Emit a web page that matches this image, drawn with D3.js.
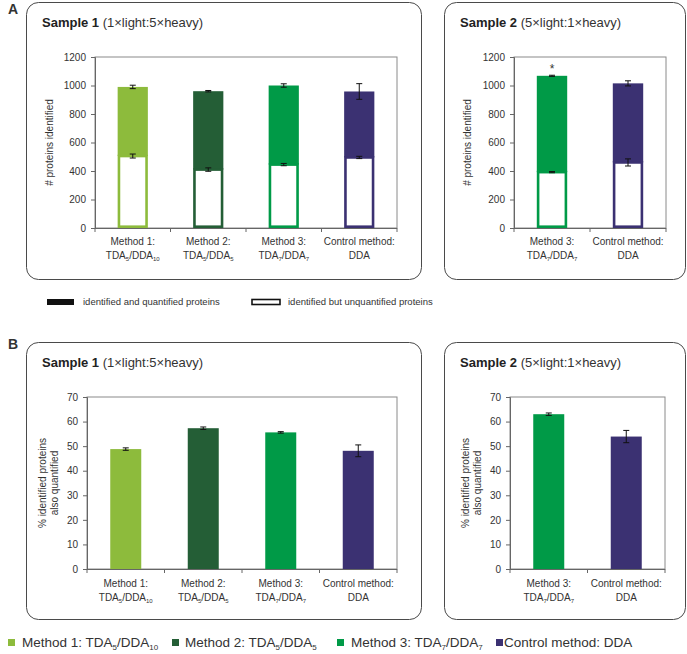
<!DOCTYPE html>
<html><head><meta charset="utf-8">
<script src="https://cdn.jsdelivr.net/npm/d3@7"></script>
<style>
body{margin:0;background:#fff;}
text{font-family:"Liberation Sans",Arial,sans-serif;fill:#333;}
</style></head>
<body><svg id="c" width="687" height="654"></svg>
<script>
// ---------- data ----------
const catLine1 = ["Method 1:", "Method 2:", "Method 3:", "Control method:"];
const catLine2 = ["TDA_5/DDA_10", "TDA_5/DDA_5", "TDA_7/DDA_7", "DDA"];
const colors = ["#8dbb3c", "#245e36", "#009a47", "#3b3172"];
const legendLabels = ["Method 1: TDA_5/DDA_10", "Method 2: TDA_5/DDA_5", "Method 3: TDA_7/DDA_7", "Control method: DDA"];

// Panel A: sample 1 (all four methods)
const s1Total = [990, 960, 1000, 958];
const s1TotalErr = [12, 5, 12, 55];
const s1Unquant = [505, 410, 445, 495];
const s1UnquantErr = [14, 12, 8, 8];
// Panel A: sample 2 (method 3, control)
const s2Idx = [2, 3];
const s2Total = [1068, 1015];
const s2TotalErr = [4, 18];
const s2Unquant = [392, 460];
const s2UnquantErr = [4, 25];
const s2Star = [true, false];
// Panel B: % identified proteins also quantified
const p1Pct = [48.8, 57.3, 55.6, 48.1];
const p1Err = [0.5, 0.5, 0.3, 2.4];
const p2Pct = [63.0, 53.9];
const p2Err = [0.5, 2.5];

const ticksA = [0, 200, 400, 600, 800, 1000, 1200];
const ticksB = [0, 10, 20, 30, 40, 50, 60, 70];

const svg = d3.select("#c");

function richText(sel, str, subSize) {
  // "TDA_5/DDA_10" -> subscripts
  const parts = str.split(/(_\d+)/).filter(s => s.length);
  parts.forEach(p => {
    if (p[0] === "_") {
      sel.append("tspan").attr("font-size", subSize).attr("baseline-shift", -subSize * 0.4).text(p.slice(1));
    } else {
      sel.append("tspan").text(p);
    }
  });
}

function box(x, y, w, h, title, sub) {
  svg.append("rect").attr("x", x + 0.5).attr("y", y + 0.5).attr("width", w).attr("height", h)
    .attr("rx", 12).attr("ry", 12).attr("fill", "none").attr("stroke", "#4a4a4a").attr("stroke-width", 1);
  const t = svg.append("text").attr("x", x + 16).attr("y", y + 25).attr("font-size", 13);
  t.append("tspan").attr("font-weight", "bold").attr("fill", "#222").text(title);
  t.append("tspan").attr("fill", "#333").text(" " + sub);
}

function plot(opts) {
  const {left, right, top, bottom, idx, yMax, ticks, ylabel} = opts;
  const x = d3.scaleBand().domain(idx).range([left, right]).paddingInner(opts.pad).paddingOuter(opts.pad / 2);
  const y = d3.scaleLinear().domain([0, yMax]).range([bottom, top]);
  const g = svg.append("g");
  // frame
  g.append("rect").attr("x", left).attr("y", top).attr("width", right - left).attr("height", bottom - top)
    .attr("fill", "none").attr("stroke", "#8a8a8a").attr("stroke-width", 1);
  // y axis
  const ya = g.append("g").attr("transform", `translate(${left},0)`)
    .call(d3.axisLeft(y).tickValues(ticks).tickFormat(d3.format("d")).tickSize(4).tickPadding(5));
  ya.select(".domain").attr("stroke", "#666");
  ya.selectAll(".tick line").attr("stroke", "#666");
  ya.selectAll(".tick text").attr("font-size", 10).attr("font-family", "Liberation Sans, Arial, sans-serif").attr("fill", "#333");
  // x axis line + ticks at category boundaries
  g.append("line").attr("x1", left).attr("x2", right).attr("y1", bottom + 0.5).attr("y2", bottom + 0.5).attr("stroke", "#666");
  const step = x.step();
  d3.range(idx.length + 1).forEach(i => {
    const xx = left + i * step;
    g.append("line").attr("x1", xx).attr("x2", xx).attr("y1", bottom).attr("y2", bottom + 4).attr("stroke", "#666");
  });
  // category labels
  idx.forEach(ci => {
    const cx = x(ci) + x.bandwidth() / 2;
    g.append("text").attr("x", cx).attr("y", bottom + opts.lab1).attr("text-anchor", "middle").attr("font-size", 10).text(catLine1[ci]);
    const t2 = g.append("text").attr("x", cx).attr("y", bottom + opts.lab1 + 14).attr("text-anchor", "middle").attr("font-size", 10);
    richText(t2, catLine2[ci], 6);
  });
  // y label
  const cy = (top + bottom) / 2;
  ylabel.forEach((line, i) => {
    g.append("text").attr("transform", `translate(${left + opts.ylx + i * 12},${cy}) rotate(-90)`)
      .attr("text-anchor", "middle").attr("font-size", 10).text(line);
  });
  return {x, y, g};
}

function errbar(g, cx, y, v, e) {
  const y1 = y(v + e), y2 = y(v - e);
  g.append("line").attr("x1", cx).attr("x2", cx).attr("y1", y1).attr("y2", y2).attr("stroke", "#111").attr("stroke-width", 1);
  [y1, y2].forEach(yy => g.append("line").attr("x1", cx - 3).attr("x2", cx + 3).attr("y1", yy).attr("y2", yy).attr("stroke", "#111").attr("stroke-width", 1));
}

function stacked(p, idx, total, totalErr, unq, unqErr, star) {
  const {x, y, g} = p;
  idx.forEach((ci, i) => {
    const bx = x(ci), bw = x.bandwidth(), c = colors[ci];
    g.append("rect").attr("x", bx).attr("y", y(total[i])).attr("width", bw).attr("height", y(unq[i]) - y(total[i])).attr("fill", c);
    const sw = 2.6;
    g.append("rect").attr("x", bx + sw / 2).attr("y", y(unq[i])).attr("width", bw - sw).attr("height", y(0) - y(unq[i]) - sw / 2)
      .attr("fill", "#fff").attr("stroke", c).attr("stroke-width", sw);
    const cx = bx + bw / 2;
    errbar(g, cx, y, total[i], totalErr[i]);
    errbar(g, cx, y, unq[i], unqErr[i]);
    if (star && star[i]) {
      g.append("text").attr("x", cx).attr("y", y(total[i] + totalErr[i]) - 2).attr("text-anchor", "middle")
        .attr("font-size", 12).attr("fill", "#222").text("*");
    }
  });
}

function simple(p, idx, vals, errs) {
  const {x, y, g} = p;
  idx.forEach((ci, i) => {
    const bx = x(ci), bw = x.bandwidth();
    g.append("rect").attr("x", bx).attr("y", y(vals[i])).attr("width", bw).attr("height", y(0) - y(vals[i])).attr("fill", colors[ci]);
    errbar(g, bx + bw / 2, y, vals[i], errs[i]);
  });
}

// ---------- Panel labels ----------
svg.append("text").attr("x", 8).attr("y", 14).attr("font-size", 14).attr("font-weight", "bold").attr("fill", "#111").text("A");
svg.append("text").attr("x", 8).attr("y", 349).attr("font-size", 14).attr("font-weight", "bold").attr("fill", "#111").text("B");

// ---------- Boxes ----------
box(26, 2, 395, 277, "Sample 1", "(1×light:5×heavy)");
box(444, 2, 241, 277, "Sample 2", "(5×light:1×heavy)");
box(26, 342, 395, 277, "Sample 1", "(1×light:5×heavy)");
box(444, 342, 241, 277, "Sample 2", "(5×light:1×heavy)");

// ---------- Panel A ----------
const pA1 = plot({left: 95, right: 397, top: 57, bottom: 228, idx: [0, 1, 2, 3], yMax: 1200, ticks: ticksA,
  ylabel: ["# proteins identified"], ylx: -42, pad: 0.6, lab1: 17});
stacked(pA1, [0, 1, 2, 3], s1Total, s1TotalErr, s1Unquant, s1UnquantErr, null);
const pA2 = plot({left: 514, right: 666, top: 57, bottom: 228, idx: s2Idx, yMax: 1200, ticks: ticksA,
  ylabel: ["# proteins identified"], ylx: -43, pad: 0.6, lab1: 17});
stacked(pA2, s2Idx, s2Total, s2TotalErr, s2Unquant, s2UnquantErr, s2Star);

// legend A
svg.append("rect").attr("x", 47).attr("y", 299).attr("width", 27).attr("height", 6).attr("fill", "#111");
svg.append("text").attr("x", 83).attr("y", 305).attr("font-size", 9.5).text("identified and quantified proteins");
svg.append("rect").attr("x", 252).attr("y", 299.5).attr("width", 28).attr("height", 5).attr("fill", "#fff").attr("stroke", "#111").attr("stroke-width", 1.6);
svg.append("text").attr("x", 288).attr("y", 305).attr("font-size", 9.5).text("identified but unquantified proteins");

// ---------- Panel B ----------
const pB1 = plot({left: 87, right: 397, top: 397, bottom: 569, idx: [0, 1, 2, 3], yMax: 70, ticks: ticksB,
  ylabel: ["% identified proteins", "also quantified"], ylx: -41, pad: 0.6, lab1: 18});
simple(pB1, [0, 1, 2, 3], p1Pct, p1Err);
const pB2 = plot({left: 510, right: 665, top: 397, bottom: 569, idx: s2Idx, yMax: 70, ticks: ticksB,
  ylabel: ["% identified proteins", "also quantified"], ylx: -41, pad: 0.6, lab1: 18});
simple(pB2, s2Idx, p2Pct, p2Err);

// ---------- bottom legend ----------
const legX = [8, 172, 337, 496];
const legTX = [22, 185, 351, 504];
legendLabels.forEach((l, i) => {
  svg.append("rect").attr("x", legX[i]).attr("y", 639).attr("width", 7).attr("height", 7).attr("fill", colors[i]);
  const t = svg.append("text").attr("x", legTX[i]).attr("y", 647).attr("font-size", 13.5);
  richText(t, l, 8);
});
</script>
</body></html>
